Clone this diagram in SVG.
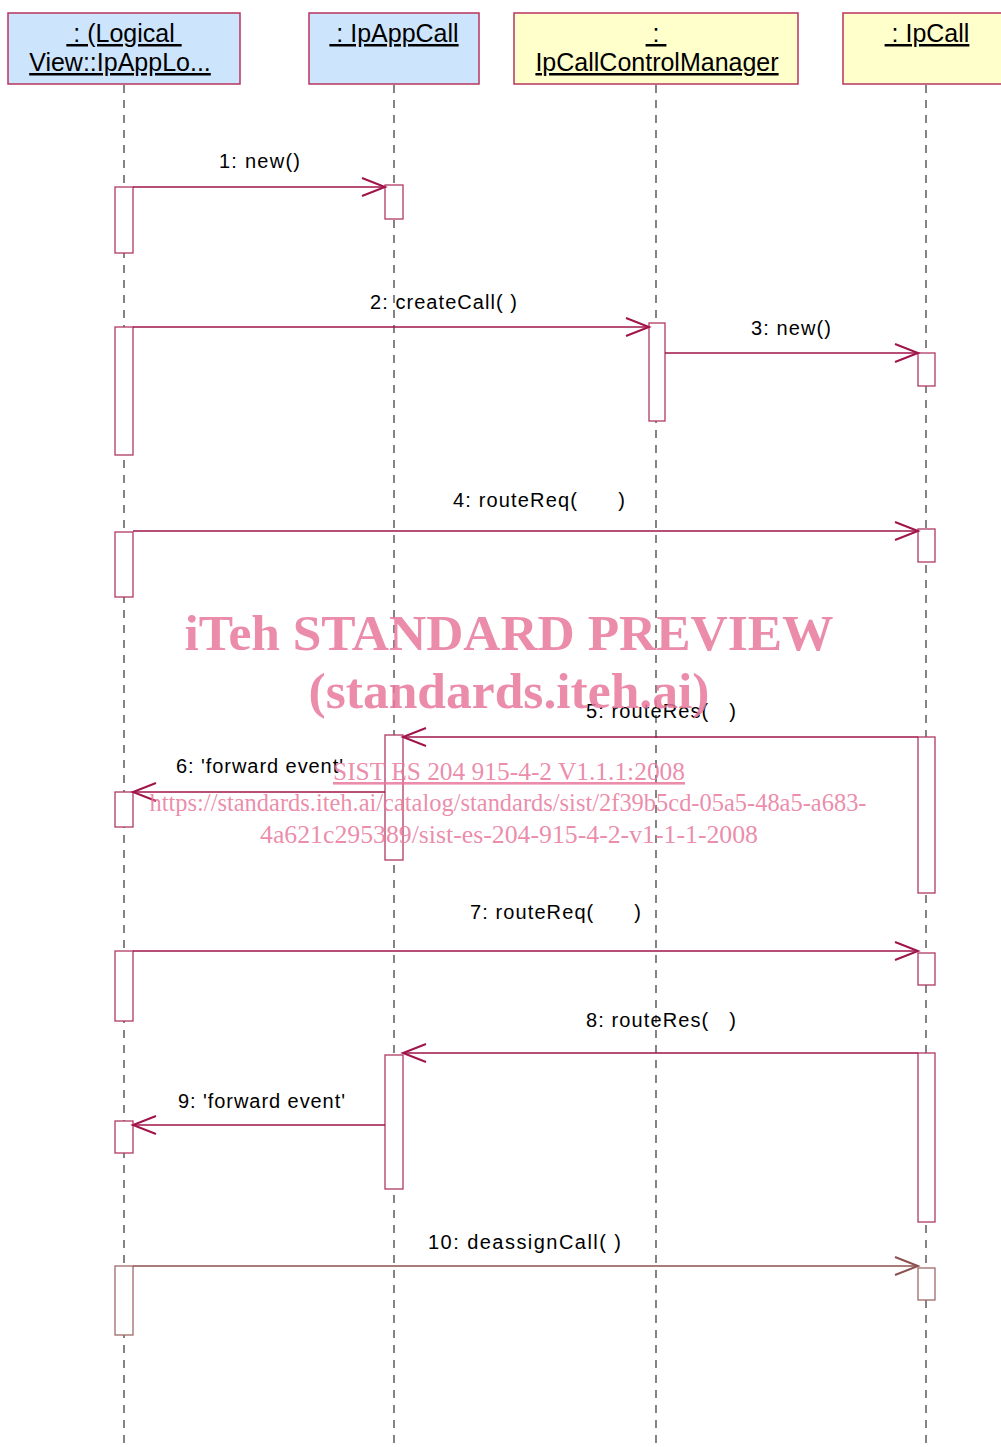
<svg xmlns="http://www.w3.org/2000/svg" width="1001" height="1447" viewBox="0 0 1001 1447">
<defs>
<style>
.hdr{font-family:"Liberation Sans",Arial,sans-serif;font-size:25px;fill:#000;text-decoration:underline;white-space:pre}
.lbl{font-family:"Liberation Sans",Arial,sans-serif;font-size:20px;fill:#000;white-space:pre}
.blue{fill:#cce4fc;stroke:#b8355f;stroke-width:1.5}
.yel{fill:#ffffcc;stroke:#b8355f;stroke-width:1.5}
.life{stroke:#333;stroke-width:1.2;stroke-dasharray:8 7;fill:none}
.act{fill:#fff;stroke:#b03a64;stroke-width:1.3}
.act2{fill:#fff;stroke:#a06a6a;stroke-width:1.3}
.msg{stroke:#a0144a;stroke-width:1.3;fill:none}
.msg2{stroke:#8c5050;stroke-width:1.3;fill:none}
.wm{font-family:"Liberation Serif","Times New Roman",serif;fill:#e8789c;fill-opacity:0.85}
</style>
<marker id="ah" markerUnits="userSpaceOnUse" markerWidth="30" markerHeight="24" viewBox="-26 -12 30 24" refX="0" refY="0" orient="auto">
<polyline points="-23,-9 0,0 -23,9" fill="none" stroke="#a0144a" stroke-width="2"/>
</marker>
<marker id="ah2" markerUnits="userSpaceOnUse" markerWidth="30" markerHeight="24" viewBox="-26 -12 30 24" refX="0" refY="0" orient="auto">
<polyline points="-23,-9 0,0 -23,9" fill="none" stroke="#8c5050" stroke-width="2"/>
</marker>
</defs>
<rect width="1001" height="1447" fill="#fff"/>

<g id="lifelines">
<line class="life" x1="124" y1="85" x2="124" y2="1447"/>
<line class="life" x1="394" y1="85" x2="394" y2="1447"/>
<line class="life" x1="656" y1="85" x2="656" y2="1447"/>
<line class="life" x1="926" y1="85" x2="926" y2="1447"/>
</g>

<g id="node-logicalview">
<rect class="blue" x="8" y="13" width="232" height="71"/>
<text class="hdr" x="124" y="42" text-anchor="middle"> : (Logical </text>
<text class="hdr" x="120" y="71" text-anchor="middle">View::IpAppLo...</text>
</g>
<g id="node-ipappcall">
<rect class="blue" x="309" y="13" width="170" height="71"/>
<text class="hdr" x="394" y="42" text-anchor="middle"> : IpAppCall</text>
</g>
<g id="node-ipcallcontrolmanager">
<rect class="yel" x="514" y="13" width="284" height="71"/>
<text class="hdr" x="656" y="42" text-anchor="middle"> : </text>
<text class="hdr" x="657" y="71" text-anchor="middle">IpCallControlManager</text>
</g>
<g id="node-ipcall">
<rect class="yel" x="843" y="13" width="170" height="71"/>
<text class="hdr" x="927" y="42" text-anchor="middle"> : IpCall</text>
</g>

<g id="activations">
<rect class="act" x="115" y="187" width="18" height="66"/>
<rect class="act" x="115" y="327" width="18" height="128"/>
<rect class="act" x="115" y="532" width="18" height="65"/>
<rect class="act" x="115" y="792" width="18" height="35"/>
<rect class="act" x="115" y="951" width="18" height="70"/>
<rect class="act" x="115" y="1121" width="18" height="32"/>
<rect class="act2" x="115" y="1266" width="18" height="69"/>
<rect class="act" x="385" y="185" width="18" height="34"/>
<rect class="act" x="385" y="735" width="18" height="125"/>
<rect class="act" x="385" y="1055" width="18" height="134"/>
<rect class="act" x="649" y="323" width="16" height="98"/>
<rect class="act" x="918" y="353" width="17" height="33"/>
<rect class="act" x="918" y="529" width="17" height="33"/>
<rect class="act" x="918" y="737" width="17" height="156"/>
<rect class="act" x="918" y="953" width="17" height="32"/>
<rect class="act" x="918" y="1053" width="17" height="169"/>
<rect class="act2" x="918" y="1268" width="17" height="32"/>
</g>

<g id="connectors">
<line class="msg" x1="133" y1="187" x2="385" y2="187" marker-end="url(#ah)"/>
<text class="lbl" x="219" y="168" textLength="81" lengthAdjust="spacing">1: new()</text>
<line class="msg" x1="133" y1="327" x2="649" y2="327" marker-end="url(#ah)"/>
<text class="lbl" x="370" y="309" textLength="147" lengthAdjust="spacing">2: createCall( )</text>
<line class="msg" x1="665" y1="353" x2="918" y2="353" marker-end="url(#ah)"/>
<text class="lbl" x="751" y="335" textLength="80" lengthAdjust="spacing">3: new()</text>
<line class="msg" x1="133" y1="531" x2="918" y2="531" marker-end="url(#ah)"/>
<text class="lbl" x="453" y="507" textLength="172" lengthAdjust="spacing">4: routeReq(      )</text>
<line class="msg" x1="918" y1="737" x2="403" y2="737" marker-end="url(#ah)"/>
<text class="lbl" x="586" y="718" textLength="150" lengthAdjust="spacing">5: routeRes(   )</text>
<line class="msg" x1="385" y1="792" x2="133" y2="792" marker-end="url(#ah)"/>
<text class="lbl" x="176" y="773" textLength="167" lengthAdjust="spacing">6: 'forward event'</text>
<line class="msg" x1="133" y1="951" x2="918" y2="951" marker-end="url(#ah)"/>
<text class="lbl" x="470" y="919" textLength="171" lengthAdjust="spacing">7: routeReq(      )</text>
<line class="msg" x1="918" y1="1053" x2="403" y2="1053" marker-end="url(#ah)"/>
<text class="lbl" x="586" y="1027" textLength="150" lengthAdjust="spacing">8: routeRes(   )</text>
<line class="msg" x1="385" y1="1125" x2="133" y2="1125" marker-end="url(#ah)"/>
<text class="lbl" x="178" y="1108" textLength="167" lengthAdjust="spacing">9: 'forward event'</text>
<line class="msg2" x1="133" y1="1266" x2="918" y2="1266" marker-end="url(#ah2)"/>
<text class="lbl" x="428" y="1249" textLength="193" lengthAdjust="spacing">10: deassignCall( )</text>
</g>

<g id="watermark">
<text class="wm" x="509" y="650" text-anchor="middle" font-size="50" font-weight="bold" textLength="649" lengthAdjust="spacingAndGlyphs">iTeh STANDARD PREVIEW</text>
<text class="wm" x="509" y="708" text-anchor="middle" font-size="50" font-weight="bold" textLength="401" lengthAdjust="spacingAndGlyphs">(standards.iteh.ai)</text>
<text class="wm" x="509" y="780" text-anchor="middle" font-size="26" text-decoration="underline" textLength="352" lengthAdjust="spacingAndGlyphs">SIST ES 204 915-4-2 V1.1.1:2008</text>
<text class="wm" x="508" y="811" text-anchor="middle" font-size="26" textLength="717" lengthAdjust="spacingAndGlyphs">https://standards.iteh.ai/catalog/standards/sist/2f39b5cd-05a5-48a5-a683-</text>
<text class="wm" x="509" y="843" text-anchor="middle" font-size="26" textLength="498" lengthAdjust="spacingAndGlyphs">4a621c295389/sist-es-204-915-4-2-v1-1-1-2008</text>
</g>
</svg>
